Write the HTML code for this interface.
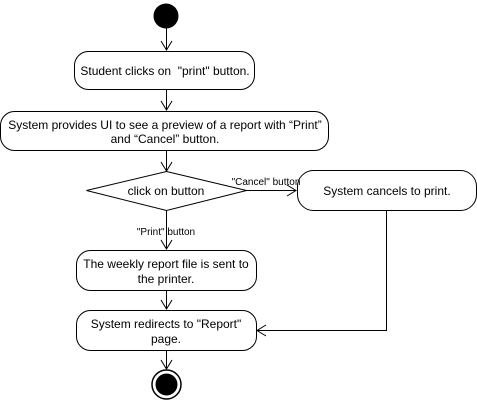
<!DOCTYPE html>
<html><head><style>body{margin:0;background:#fff}</style></head><body>
<svg width="477" height="401" xmlns="http://www.w3.org/2000/svg" font-family="Liberation Sans, Arial, sans-serif" font-size="12">
<g fill="none" stroke="#000" stroke-width="1">
<line x1="166.5" y1="28" x2="166.5" y2="50"/><polyline points="161,41 166.5,50 172,41"/>
<rect x="74.5" y="51.5" width="180" height="38" rx="14"/>
<line x1="166.5" y1="90" x2="166.5" y2="110"/><polyline points="161,101 166.5,110 172,101"/>
<rect x="0.5" y="111.5" width="328" height="39" rx="14"/>
<line x1="166.5" y1="151" x2="166.5" y2="171"/><polyline points="161,162 166.5,171 172,162"/>
<polygon points="166.5,171.5 246.5,190.5 166.5,210.5 86.5,190.5"/>
<line x1="246" y1="190.5" x2="296" y2="190.5"/><polyline points="287,185 296,190.5 287,196"/>
<rect x="297.5" y="170.5" width="179" height="40" rx="16"/>
<line x1="166.5" y1="211" x2="166.5" y2="249"/><polyline points="161,240 166.5,249 172,240"/>
<rect x="76.5" y="250.5" width="180" height="40" rx="14"/>
<line x1="166.5" y1="291" x2="166.5" y2="309"/><polyline points="161,300 166.5,309 172,300"/>
<rect x="76.5" y="310.5" width="180" height="40" rx="14"/>
<polyline points="386.5,211 386.5,330.5 257,330.5"/><polyline points="266,325 257,330.5 266,336"/>
<line x1="166.5" y1="351" x2="166.5" y2="369"/><polyline points="161,360 166.5,369 172,360"/>
<circle cx="166.5" cy="384.5" r="14.5" stroke-width="1.5"/>
</g>
<circle cx="166" cy="16" r="12.5" fill="#000"/>
<circle cx="166.5" cy="384.5" r="11" fill="#000"/>
<g text-anchor="middle" fill="#000">
<text x="165" y="75">Student clicks on&#160; "print" button.</text>
<text x="165" y="129">System provides UI to see a preview of a report with “Print”</text>
<text x="165" y="143">and “Cancel” button.</text>
<text x="166" y="195">click on button</text>
<text x="387" y="195">System cancels to print.</text>
<text x="166" y="268">The weekly report file is sent to</text>
<text x="166" y="283">the printer.</text>
<text x="166" y="328">System redirects to "Report"</text>
<text x="166" y="343">page.</text>
<text x="166" y="235" font-size="10">"Print" button</text>
<text x="266" y="185" font-size="10">"Cancel" button</text>
</g>
</svg>
</body></html>
